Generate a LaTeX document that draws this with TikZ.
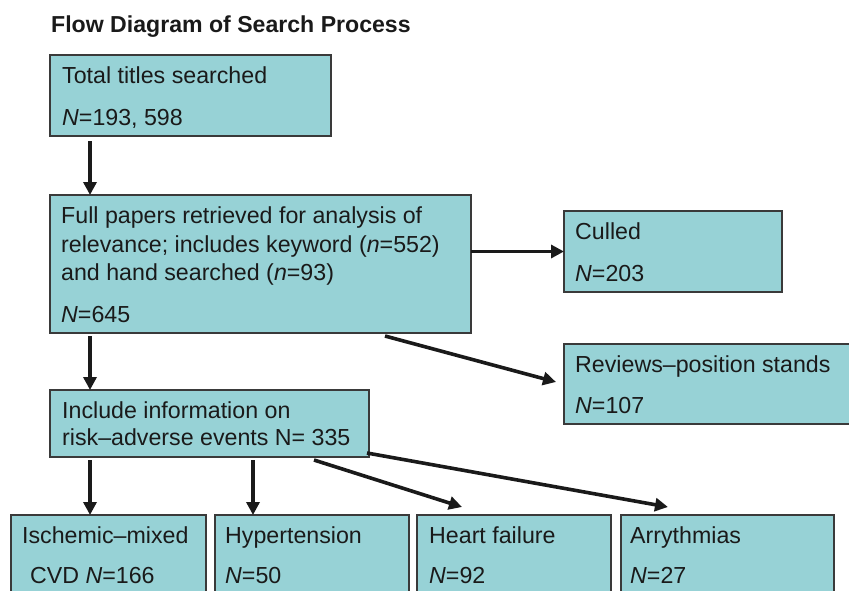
\documentclass[tikz,border=0pt]{standalone}
\usepackage{fontspec}
\setmainfont{Liberation Sans}
\usetikzlibrary{arrows.meta,calc}
\definecolor{boxfill}{HTML}{97D2D6}
\definecolor{boxline}{HTML}{3A3A3A}
\definecolor{ink}{HTML}{1A1A1A}
\tikzset{
  box/.style={draw=boxline, line width=1.4pt, fill=boxfill, anchor=north west,
              inner sep=0pt, outer sep=0pt},
  lbl/.style={anchor=base west, inner sep=0pt, text=ink,
              font=\fontsize{23.2}{28}\selectfont},
  arr/.style={draw=ink, line width=3.6pt, -{Triangle[length=13pt,width=13pt]}},
}
\begin{document}
\begin{tikzpicture}[x=1pt,y=-1pt]
  \useasboundingbox (0,0) rectangle (849,590);
  \clip (0,0) rectangle (849,590);

  % title
  \node[anchor=base west, inner sep=0pt, text=ink,
        font=\bfseries\fontsize{23.1}{28}\selectfont] (title) at (51,32)
        {Flow Diagram of Search Process};

  % boxes
  \node[box, minimum width=281pt, minimum height=81pt]  (b1) at (50,55) {};
  \node[box, minimum width=421pt, minimum height=138pt] (b2) at (50,195) {};
  \node[box, minimum width=218pt, minimum height=81pt]  (culled) at (564,211) {};
  \node[box, minimum width=300pt, minimum height=80pt]  (reviews) at (564,344) {};
  \node[box, minimum width=319pt, minimum height=67pt]  (b3) at (50,390) {};
  \node[box, minimum width=195pt, minimum height=95pt]  (bb1) at (11,515) {};
  \node[box, minimum width=194pt, minimum height=95pt]  (bb2) at (215,515) {};
  \node[box, minimum width=194pt, minimum height=95pt]  (bb3) at (417,515) {};
  \node[box, minimum width=213pt, minimum height=95pt]  (bb4) at (621,515) {};

  % texts
  \node[lbl] (t1a) at (62,83)  {Total titles searched};
  \node[lbl] (t1b) at (62,125) {\textit{N}=193, 598};

  \node[lbl] (t2a) at (61,223) {Full papers retrieved for analysis of};
  \node[lbl] (t2b) at (61,252) {relevance; includes keyword (\textit{n}=552)};
  \node[lbl] (t2c) at (61,280) {and hand searched (\textit{n}=93)};
  \node[lbl] (t2d) at (61,322) {\textit{N}=645};

  \node[lbl] (tca) at (575,239) {Culled};
  \node[lbl] (tcb) at (575,281) {\textit{N}=203};

  \node[lbl] (tra) at (575,372) {Reviews–position stands};
  \node[lbl] (trb) at (575,413) {\textit{N}=107};

  \node[lbl] (t3a) at (62,418) {Include information on};
  \node[lbl] (t3b) at (62,445) {risk–adverse events N= 335};

  \node[lbl] (u1a) at (22,543)  {Ischemic–mixed};
  \node[lbl] (u1b) at (30,583)  {CVD \textit{N}=166};
  \node[lbl] (u2a) at (225,543) {Hypertension};
  \node[lbl] (u2b) at (225,583) {\textit{N}=50};
  \node[lbl] (u3a) at (429,543) {Heart failure};
  \node[lbl] (u3b) at (429,583) {\textit{N}=92};
  \node[lbl] (u4a) at (630,543) {Arrythmias};
  \node[lbl] (u4b) at (630,583) {\textit{N}=27};

  % connectors
  \draw[arr] ($(b1.south west)+(40,5)$) -- ($(b2.north west)+(40,0)$);
  \draw[arr] (b2.east |- culled.west) -- (culled.west);
  \draw[arr] ($(b2.south west)+(335,3)$) -- ($(reviews.west)+(-8,-2)$);
  \draw[arr] ($(b2.south west)+(40,3)$) -- ($(b3.north west)+(40,0)$);
  \draw[arr] ($(b3.south west)+(40,3)$) -- ($(bb1.north west)+(79,0)$);
  \draw[arr] ($(b3.south west)+(203,3)$) -- ($(bb2.north west)+(38,0)$);
  \draw[arr] ($(b3.south west)+(264,3)$) -- ($(bb3.north west)+(45,-8)$);
  \draw[arr] ($(b3.south east)+(-2,-4)$) -- ($(bb4.north west)+(47,-8)$);
\end{tikzpicture}
\end{document}
